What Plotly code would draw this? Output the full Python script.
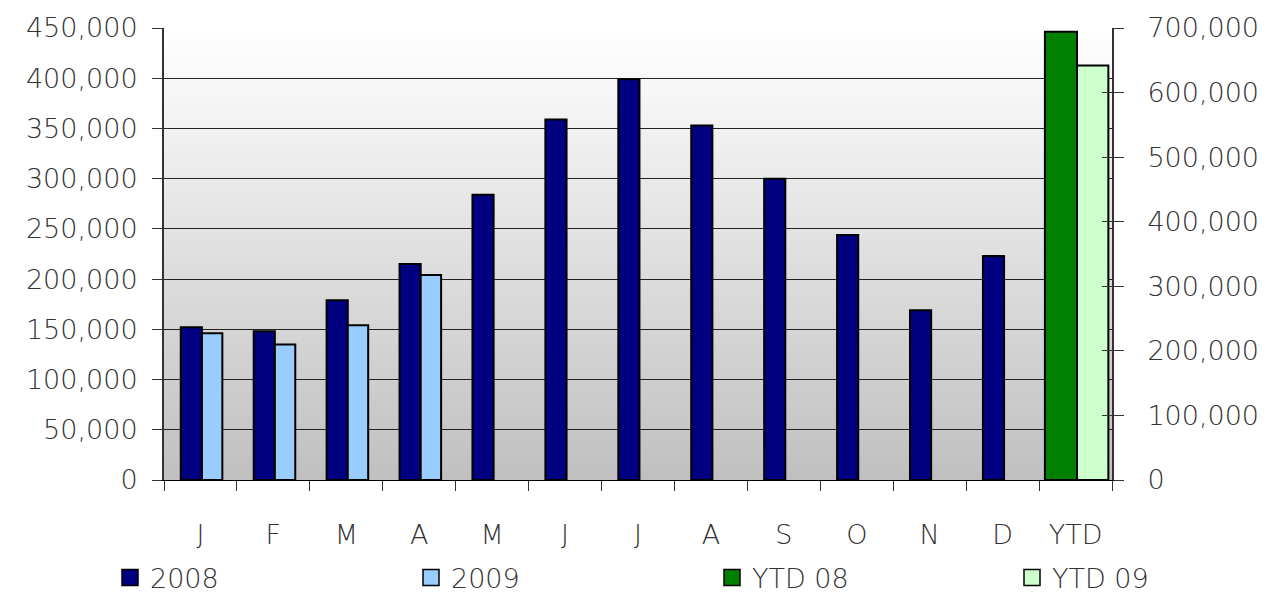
import base64
import struct
import zlib

import plotly.graph_objects as go

# ---- data ----
categories = ["Jan", "Feb", "Mar", "Apr", "May", "Jun", "Jul", "Aug", "Sep", "Oct", "Nov", "Dec", "YTD"]
tick_labels = ["J", "F", "M", "A", "M", "J", "J", "A", "S", "O", "N", "D", "YTD"]
months = categories[:12]
values_2008 = [152000, 148000, 179000, 215000, 284000, 359000, 399000, 353000, 300000, 244000, 169000, 223000]
months_2009 = categories[:4]
values_2009 = [146000, 135000, 154000, 204000]
ytd_category = ["YTD"]
ytd_08 = [694000]
ytd_09 = [642000]
series_names = ["2008", "2009", "YTD 08", "YTD 09"]
series_colors = ["#000080", "#99CCFF", "#008000", "#CCFFCC"]

FONT = "DejaVu Sans"
TXT = "#333333"
FS = 27
FW = 200

# page body has an 8px margin -> figure drawn at (8, 8)
W, H = 1269, 588


def gradient_png(top=(255, 255, 255), bottom=(192, 192, 192), h=256):
    rows = b""
    for i in range(h):
        t = i / (h - 1)
        c = bytes(int(round(top[k] + (bottom[k] - top[k]) * t)) for k in range(3))
        rows += b"\x00" + c

    def chunk(tag, data):
        return struct.pack(">I", len(data)) + tag + data + struct.pack(">I", zlib.crc32(tag + data) & 0xFFFFFFFF)

    png = b"\x89PNG\r\n\x1a\n"
    png += chunk(b"IHDR", struct.pack(">IIBBBBB", 1, h, 8, 2, 0, 0, 0))
    png += chunk(b"IDAT", zlib.compress(rows))
    png += chunk(b"IEND", b"")
    return "data:image/png;base64," + base64.b64encode(png).decode()


fig = go.Figure()
line = dict(color="black", width=2)

fig.add_trace(go.Bar(x=months, y=values_2008, name=series_names[0], marker=dict(color=series_colors[0], line=line),
                     width=0.29, offset=-0.27, showlegend=False, yaxis="y"))
fig.add_trace(go.Bar(x=months_2009, y=values_2009, name=series_names[1], marker=dict(color=series_colors[1], line=line),
                     width=0.28, offset=0.02, showlegend=False, yaxis="y"))
fig.add_trace(go.Bar(x=ytd_category, y=ytd_08, name=series_names[2], marker=dict(color=series_colors[2], line=line),
                     width=0.44, offset=-0.42, showlegend=False, yaxis="y2"))
fig.add_trace(go.Bar(x=ytd_category, y=ytd_09, name=series_names[3], marker=dict(color=series_colors[3], line=line),
                     width=0.43, offset=0.02, showlegend=False, yaxis="y2"))

# legend entries (square swatches), one legend per entry for Excel-like spacing
legend_ids = ["legend", "legend2", "legend3", "legend4"]
legend_x_px = [102, 403, 704, 1004]
for name, col, lid in zip(series_names, series_colors, legend_ids):
    fig.add_trace(go.Scatter(x=[None], y=[None], mode="markers", name=name, legend=lid,
                             marker=dict(symbol="square", size=22, color=col, line=dict(color="black", width=1.5)),
                             showlegend=True))

fig.add_trace(go.Scatter(x=[None], y=[None], yaxis="y3", showlegend=False, hoverinfo="skip"))

tickfont = dict(family=FONT, size=FS, color=TXT, weight=FW)

layout_legends = {}
for lid, px in zip(legend_ids, legend_x_px):
    layout_legends[lid] = dict(
        orientation="h", xref="container", yref="container",
        x=px / W, y=1 - 570 / H, xanchor="left", yanchor="middle",
        font=dict(family=FONT, size=FS, color=TXT, weight=FW), bgcolor="rgba(0,0,0,0)",
        itemsizing="trace",
    )

fig.update_layout(
    width=W, height=H,
    margin=dict(l=156, r=W - 1104, t=20, b=H - 472),
    paper_bgcolor="white",
    plot_bgcolor="rgba(0,0,0,0)",
    font=dict(family=FONT, size=FS, color=TXT, weight=FW),
    barmode="overlay",
    images=[dict(source=gradient_png(), xref="paper", yref="paper", x=0, y=1, sizex=1, sizey=1,
                 sizing="stretch", layer="below", xanchor="left", yanchor="top")],
    xaxis=dict(
        type="category", categoryorder="array", categoryarray=categories,
        range=[-0.5, 12.5], automargin=False,
        tickmode="array", tickvals=categories, ticktext=tick_labels,
        tickson="boundaries", ticks="outside", ticklen=10, tickcolor="#333", tickwidth=1,
        showgrid=False, showline=True, linecolor="black", linewidth=1,
        ticklabelstandoff=31,
        tickfont=tickfont,
    ),
    yaxis=dict(
        range=[0, 450000], dtick=50000, tickformat=",", automargin=False,
        ticks="outside", ticklen=10, tickcolor="#333", tickwidth=1,
        showgrid=True, gridcolor="#222222", gridwidth=1,
        showline=True, linecolor="#333", linewidth=2, zeroline=False,
        ticklabelstandoff=9,
        tickfont=tickfont,
    ),
    yaxis2=dict(
        overlaying="y", side="right", anchor="x", automargin=False,
        range=[0, 700000], dtick=100000, tickformat=",",
        ticks="outside", ticklen=10, tickcolor="#333", tickwidth=1,
        showgrid=False, showline=True, linecolor="#333", linewidth=2, zeroline=False,
        ticklabelstandoff=18,
        tickfont=tickfont,
    ),
    yaxis3=dict(
        overlaying="y", side="right", anchor="x", automargin=False,
        range=[0, 700000], dtick=100000,
        ticks="inside", ticklen=10, tickcolor="#333", tickwidth=1,
        showticklabels=False, showgrid=False, showline=False, zeroline=False,
    ),
    **layout_legends,
)

fig.write_html("out.html")
